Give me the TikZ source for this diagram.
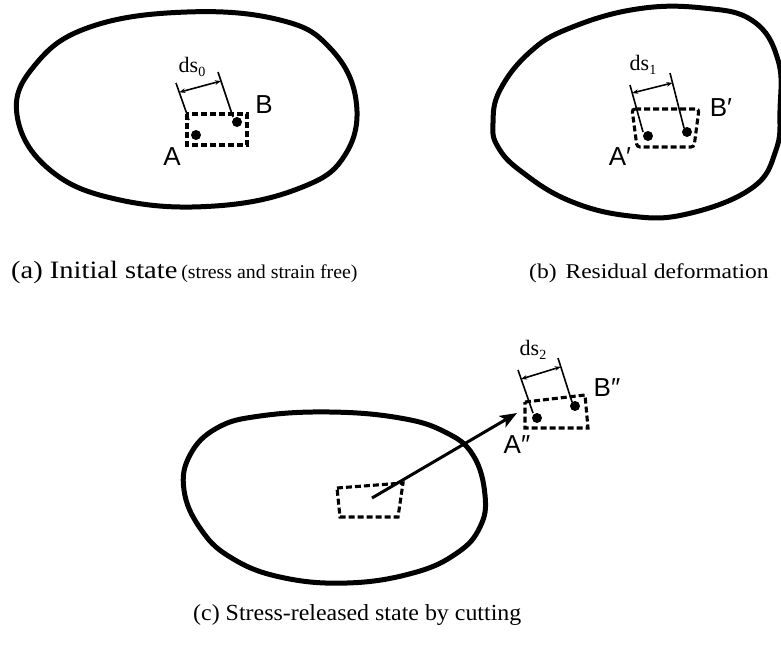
\documentclass[tikz,border=0pt]{standalone}
\usepackage{fontspec}
\setmainfont{Liberation Serif}
\newfontfamily\labfont{Liberation Sans}
\usetikzlibrary{arrows.meta,calc}
\begin{document}
\begin{tikzpicture}[x=1pt,y=-1pt,
  outline/.style={line width=5pt, line join=round},
  cutbox/.style={line width=3.1pt, dash pattern=on 6pt off 3pt},
  extline/.style={line width=1.6pt},
  dimarrow/.style={line width=1.6pt, {Stealth[length=6pt,width=4.5pt]}-{Stealth[length=6pt,width=4.5pt]}},
  pt/.style={circle, fill=black, inner sep=0pt, minimum size=10pt},
  ptlabel/.style={font=\labfont\fontsize{26}{26}\selectfont, inner sep=0pt},
  dslabel/.style={font=\fontsize{22}{22}\selectfont, inner sep=0pt},
  caption/.style={inner sep=0pt, anchor=base west}]
\useasboundingbox (0,0) rectangle (781,648);

% ---------- (a) ----------
\draw[outline] plot[smooth cycle, tension=0.7] coordinates {
  (17,115) (35,65) (90,27) (187,12) (280,20) (330,48) (356,100)
  (345,155) (300,188) (215,206) (120,200) (50,170)};
\draw[cutbox] (187,114) rectangle (247,145);
\node[pt] (A0) at (196,135) {};
\node[pt] (B0) at (237,122) {};
\coordinate (a0t) at (176,83);  \coordinate (a0b) at (189,120);
\coordinate (b0t) at (218,72);  \coordinate (b0b) at (233,117);
\draw[extline] (a0t) -- (a0b);
\draw[extline] (b0t) -- (b0b);
\coordinate (d0l) at ($(a0t)!0.25!(a0b)$);
\coordinate (d0r) at ($(b0t)!0.2!(b0b)$);
\draw[dimarrow] (d0l) -- (d0r);
\node[dslabel] (ds0) at (192,67) {ds\raisebox{-0.35ex}{\fontsize{14}{14}\selectfont 0}};
\node[ptlabel] (lA) at (172,157) {A};
\node[ptlabel] (lB) at (264,105) {B};
\node[caption] (capa) at (11,278) {\scalebox{1.14}[1]{\fontsize{25}{25}\selectfont(a) Initial state}\hspace{4pt}\scalebox{1.02}[1]{\fontsize{19.5}{19.5}\selectfont(stress and strain free)}};

% ---------- (b) ----------
\draw[outline] plot[smooth cycle, tension=0.7] coordinates {
  (493,123) (500,90) (530,52) (570,28) (637,9) (703,8) (753,21)
  (778,60) (780,110) (776,150) (752,188) (687,214) (630,216)
  (570,201) (522,172) (498,147)};
\draw[cutbox, rounded corners=3pt] (632,109) -- (699,109) -- (694,147) -- (637,147) -- cycle;
\node[pt] (A1) at (648,136) {};
\node[pt] (B1) at (687,132) {};
\coordinate (a1t) at (630,85);  \coordinate (a1b) at (643,132);
\coordinate (b1t) at (670,73);  \coordinate (b1b) at (684,128);
\draw[extline] (a1t) -- (a1b);
\draw[extline] (b1t) -- (b1b);
\coordinate (d1l) at ($(a1t)!0.17!(a1b)$);
\coordinate (d1r) at ($(b1t)!0.18!(b1b)$);
\draw[dimarrow] (d1l) -- (d1r);
\node[dslabel] (ds1) at (643,65) {ds\raisebox{-0.35ex}{\fontsize{14}{14}\selectfont 1}};
\node[ptlabel] (lA1) at (620,157) {A′};
\node[ptlabel] (lB1) at (721,108) {B′};
\node[caption] (capb) at (529,278) {\scalebox{1.12}[1]{\fontsize{21}{21}\selectfont(b)\hspace{8pt}Residual deformation}};

% ---------- (c) ----------
\draw[outline] plot[smooth cycle, tension=0.7] coordinates {
  (184,490) (190,455) (217,428) (260,416) (330,412) (400,418)
  (445,432) (473,455) (485,495) (480,527) (457,553) (413,573)
  (347,583) (280,577) (230,557) (200,528)};
\draw[cutbox] (337,488) -- (403,483) -- (398,517) -- (340,517) -- cycle;
\coordinate (start) at (372,498);
\coordinate (tip) at (517,413);
\draw[line width=3pt, -{Stealth[length=17pt,width=13pt,inset=4pt]}] (start) -- (tip);
\draw[cutbox] (525,402) -- (585,395) -- (588,428) -- (525,428) -- cycle;
\node[pt] (A2) at (537,418) {};
\node[pt] (B2) at (575,406) {};
\coordinate (a2t) at (518,370);  \coordinate (a2b) at (533,413);
\coordinate (b2t) at (558,358);  \coordinate (b2b) at (572,402);
\draw[extline] (a2t) -- (a2b);
\draw[extline] (b2t) -- (b2b);
\coordinate (d2l) at ($(a2t)!0.21!(a2b)$);
\coordinate (d2r) at ($(b2t)!0.2!(b2b)$);
\draw[dimarrow] (d2l) -- (d2r);
\node[dslabel] (ds2) at (533,350) {ds\raisebox{-0.35ex}{\fontsize{14}{14}\selectfont 2}};
\node[ptlabel] (lA2) at (517,445) {A″};
\node[ptlabel] (lB2) at (607,388) {B″};
\node[caption] (capc) at (193,620) {\scalebox{1.04}[1]{\fontsize{23}{23}\selectfont(c) Stress-released state by cutting}};
\end{tikzpicture}
\end{document}
